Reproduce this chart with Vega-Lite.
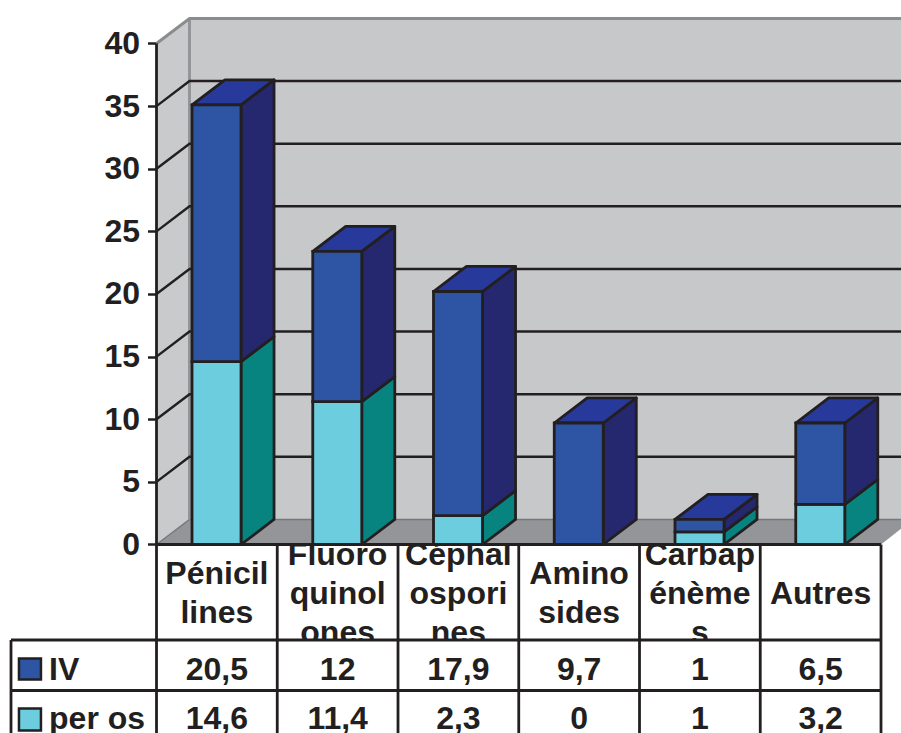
{
"$schema":"https://vega.github.io/schema/vega-lite/v6.json",
"width":901,"height":733,"padding":0,"autosize":{"type":"none"},"background":"white",
"config":{"view":{"stroke":null},"text":{"font":"Liberation Sans","fontWeight":"bold","fontSize":32,"fill":"#231f20"}},
"datasets":{
"bars":[
{"category":"Pénicillines","i":0,"series":"per os","value":14.6},{"category":"Pénicillines","i":0,"series":"IV","value":20.5},
{"category":"Fluoroquinolones","i":1,"series":"per os","value":11.4},{"category":"Fluoroquinolones","i":1,"series":"IV","value":12},
{"category":"Céphalosporines","i":2,"series":"per os","value":2.3},{"category":"Céphalosporines","i":2,"series":"IV","value":17.9},
{"category":"Aminosides","i":3,"series":"per os","value":0},{"category":"Aminosides","i":3,"series":"IV","value":9.7},
{"category":"Carbapénèmes","i":4,"series":"per os","value":1},{"category":"Carbapénèmes","i":4,"series":"IV","value":1},
{"category":"Autres","i":5,"series":"per os","value":3.2},{"category":"Autres","i":5,"series":"IV","value":6.5}],
"heads":[{"i":0,"label":"Pénicil\nlines"},{"i":1,"label":"Fluoro\nquinol\nones"},{"i":2,"label":"Céphal\nospori\nnes"},{"i":3,"label":"Amino\nsides"},{"i":4,"label":"Carbap\nénème\ns"},{"i":5,"label":"Autres"}],
"grid":[{"v":5},{"v":10},{"v":15},{"v":20},{"v":25},{"v":30},{"v":35}]
},
"encoding":{
"x":{"field":"x","type":"quantitative","axis":null,"scale":{"domain":[-1.2961,6.1656],"nice":false,"zero":false}},
"y":{"field":"y","type":"quantitative","scale":{"domain":[-15.05,43.473],"nice":false,"zero":false},
"axis":{"title":null,"grid":false,"domain":false,"values":[0,5,10,15,20,25,30,35,40],"offset":-156.5,"tickSize":9,"tickWidth":2.5,"tickColor":"#231f20","labelPadding":8,"labelFontSize":32,"labelFont":"Liberation Sans","labelFontWeight":"bold","labelColor":"#231f20","labelOverlap":false,"labelFlush":false}}
},
"layer":[
{"data":{"name":"heads"},"transform":[{"calculate":"datum.i+0.5","as":"x"},{"calculate":"-3.97+1.58*(length(split(datum.label,'\\n'))-1)","as":"y"}],
 "mark":{"type":"text","lineBreak":"\n","lineHeight":39,"baseline":"middle","align":"center"},"encoding":{"text":{"field":"label"}}},
{"data":{"values":[{"x":-1.2961,"x2":6.1656,"y":-7.625,"y2":-15.09}]},"mark":{"type":"rect","fill":"white"},"encoding":{"x2":{"field":"x2"},"y2":{"field":"y2"}}},
{"data":{"values":[{"x":0.2733,"x2":6.1656,"y":42,"y2":2}]},"mark":{"type":"rect","fill":"#c7c8ca"},"encoding":{"x2":{"field":"x2"},"y2":{"field":"y2"}}},
{"data":{"values":[{"x":0,"y":40,"y2":0},{"x":0.2733,"y":42,"y2":2}]},"mark":{"type":"area","fill":"#c9cacc"},"encoding":{"y2":{"field":"y2"}}},
{"data":{"values":[{"x":0,"y":0,"y2":0},{"x":0.2733,"y":2,"y2":0},{"x":6,"y":2,"y2":0},{"x":6.1656,"y":2,"y2":1.25}]},"mark":{"type":"area","fill":"#939598"},"encoding":{"y2":{"field":"y2"}}},
{"data":{"values":[{"x":0,"y":0},{"x":0.2733,"y":2},{"x":6.1656,"y":2}]},"mark":{"type":"line","stroke":"#77787b","strokeWidth":1.5}},
{"data":{"values":[{"x":0.2733,"y":2},{"x":0.2733,"y":42}]},"mark":{"type":"line","stroke":"#939598","strokeWidth":3,"orient":"vertical"},"encoding":{"order":{"field":"y"}}},
{"data":{"name":"grid"},"transform":[{"calculate":"[0,1,2]","as":"p"},{"flatten":["p"]},{"calculate":"[0,0.2733,6.1656][datum.p]","as":"x"},{"calculate":"datum.v+(datum.p>0?2:0)","as":"y"}],
 "mark":{"type":"line","stroke":"#231f20","strokeWidth":2.4},"encoding":{"detail":{"field":"v"}}},
{"data":{"values":[{"x":0,"y":40},{"x":0.2733,"y":42},{"x":6.1656,"y":42}]},"mark":{"type":"line","stroke":"#8a8c8e","strokeWidth":3}},
{"data":{"name":"bars"},"transform":[{"stack":"value","groupby":["i"],"sort":[{"field":"series","order":"descending"}],"as":["v0","v1"]},{"filter":"datum.value>0"}],
 "layer":[
 {"transform":[{"filter":"datum.series=='per os'"},{"calculate":"[0,1]","as":"p"},{"flatten":["p"]},{"calculate":"datum.i+0.70+datum.p*0.2733","as":"x"},{"calculate":"datum.v1+datum.p*2","as":"y"},{"calculate":"datum.v0+datum.p*2","as":"y2"}],
  "mark":{"type":"area","fill":"#078480","stroke":"#231f20","strokeWidth":2.8,"strokeJoin":"round"},"encoding":{"y2":{"field":"y2"},"detail":{"field":"i"}}},
 {"transform":[{"filter":"datum.series=='IV'"},{"calculate":"[0,1]","as":"p"},{"flatten":["p"]},{"calculate":"datum.i+0.70+datum.p*0.2733","as":"x"},{"calculate":"datum.v1+datum.p*2","as":"y"},{"calculate":"datum.v0+datum.p*2","as":"y2"}],
  "mark":{"type":"area","fill":"#25276f","stroke":"#231f20","strokeWidth":2.8,"strokeJoin":"round"},"encoding":{"y2":{"field":"y2"},"detail":{"field":"i"}}},
 {"transform":[{"filter":"datum.series=='IV'"},{"calculate":"[0,1]","as":"p"},{"flatten":["p"]},{"calculate":"datum.i+0.294+datum.p*0.2733","as":"x"},{"calculate":"datum.i+0.70+datum.p*0.2733","as":"x2"},{"calculate":"datum.v1+datum.p*2","as":"y"}],
  "mark":{"type":"area","orient":"horizontal","fill":"#27399b","stroke":"#231f20","strokeWidth":2.8,"strokeJoin":"round"},"encoding":{"x2":{"field":"x2"},"detail":{"field":"i"}}},
 {"transform":[{"filter":"datum.series=='per os'"},{"calculate":"datum.i+0.294","as":"x"},{"calculate":"datum.i+0.70","as":"x2"},{"calculate":"datum.v1","as":"y"},{"calculate":"datum.v0","as":"y2"}],
  "mark":{"type":"rect","fill":"#6bcddd","stroke":"#231f20","strokeWidth":2.8},"encoding":{"x2":{"field":"x2"},"y2":{"field":"y2"}}},
 {"transform":[{"filter":"datum.series=='IV'"},{"calculate":"datum.i+0.294","as":"x"},{"calculate":"datum.i+0.70","as":"x2"},{"calculate":"datum.v1","as":"y"},{"calculate":"datum.v0","as":"y2"}],
  "mark":{"type":"rect","fill":"#2e54a4","stroke":"#231f20","strokeWidth":2.8},"encoding":{"x2":{"field":"x2"},"y2":{"field":"y2"}}}
 ]},
{"data":{"values":[{"x":0,"y":0,"y2":40},{"x":0,"y":0,"y2":-7.625},{"x":1,"y":0,"y2":-15.09},{"x":0,"y":-7.625,"y2":-15.09},{"x":2,"y":0,"y2":-15.09},{"x":3,"y":0,"y2":-15.09},{"x":4,"y":0,"y2":-15.09},{"x":5,"y":0,"y2":-15.09},{"x":6,"y":0,"y2":-15.09},{"x":-1.205,"y":-7.625,"y2":-15.09}]},
 "mark":{"type":"rule","stroke":"#231f20","strokeWidth":2.8},"encoding":{"y2":{"field":"y2"}}},
{"data":{"values":[{"x":0,"x2":6,"y":0},{"x":-1.205,"x2":6,"y":-7.625},{"x":-1.205,"x2":6,"y":-11.657}]},
 "mark":{"type":"rule","stroke":"#231f20","strokeWidth":3},"encoding":{"x2":{"field":"x2"}}},
{"data":{"name":"bars"},"transform":[{"calculate":"datum.i+0.5","as":"x"},{"calculate":"datum.series=='IV'?-10.03:-13.95","as":"y"},{"calculate":"replace(''+datum.value,'.',',')","as":"label"}],
 "mark":{"type":"text","baseline":"middle","align":"center"},"encoding":{"text":{"field":"label"}}},
{"data":{"values":[{"series":"IV","x":-1.139,"x2":-0.957,"y":-9.1,"y2":-10.78},{"series":"per os","x":-1.139,"x2":-0.957,"y":-13.09,"y2":-14.85}]},
 "mark":{"type":"rect","stroke":"#231f20","strokeWidth":2.5},"encoding":{"x2":{"field":"x2"},"y2":{"field":"y2"},"fill":{"field":"series","legend":null,"scale":{"domain":["IV","per os"],"range":["#2e54a4","#6bcddd"]}}}},
{"data":{"values":[{"series":"IV","x":-0.89,"y":-10.03},{"series":"per os","x":-0.89,"y":-13.95}]},
 "mark":{"type":"text","baseline":"middle","align":"left"},"encoding":{"text":{"field":"series"}}}
]
}
